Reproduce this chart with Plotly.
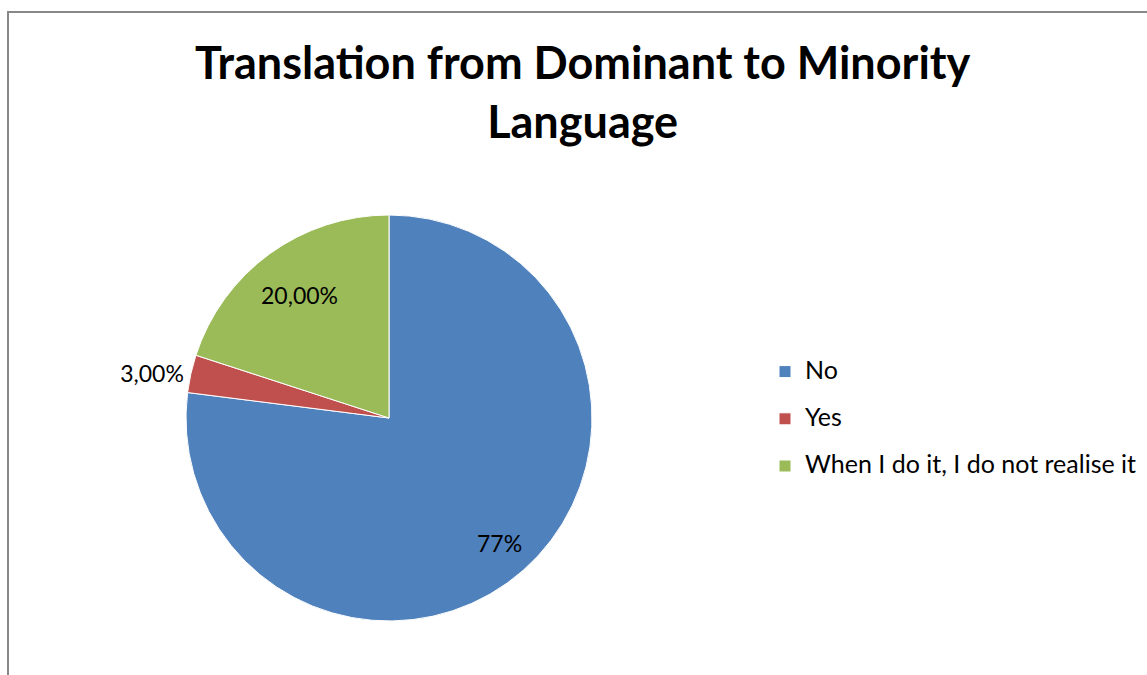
import math
import plotly.graph_objects as go

# Survey answers and their shares (percent)
categories = ["No", "Yes", "When I do it, I do not realise it"]
shares = [77, 3, 20]
label_decimals = [0, 2, 2]
colors = ["#4F81BD", "#C0504D", "#9BBB59"]

W, H = 1147, 675
FONT = "Lato, Carlito, Calibri, sans-serif"

# pie centre and radius in pixels
cx, cy, r = 389, 418, 203
# where each slice's value label sits: radial fraction, or None for outside
label_radius = [0.82, None, 0.75]


def fmt(v, d):
    return f"{v:.{d}f}".replace(".", ",") + "%"


slice_text = [fmt(v, d) for v, d in zip(shares, label_decimals)]

fig = go.Figure(
    go.Pie(
        labels=[f"<span style='font-size:25px;baseline-shift:6px'>{c}</span>" for c in categories],
        values=shares,
        text=slice_text,
        textinfo="text",
        textposition=["none" if lr is not None else "outside" for lr in label_radius],
        textfont=dict(family=FONT, size=23, color="black"),
        marker=dict(colors=colors, line=dict(color="white", width=1)),
        sort=False,
        direction="clockwise",
        rotation=0,
        domain=dict(
            x=[(cx - r) / W, (cx + r) / W],
            y=[1 - (cy + r) / H, 1 - (cy - r) / H],
        ),
        hoverinfo="label+percent",
    )
)

# value labels placed along each slice's middle angle (clockwise from 12 o'clock)
total = sum(shares)
start = 0.0
annotations = []
for v, txt, lr in zip(shares, slice_text, label_radius):
    mid = start + v / total / 2
    start += v / total
    if lr is None:
        continue
    ang = math.pi / 2 - 2 * math.pi * mid
    px = cx + lr * r * math.cos(ang)
    py = cy - lr * r * math.sin(ang)
    annotations.append(
        dict(
            text=txt,
            x=px / W,
            y=1 - py / H,
            xref="paper",
            yref="paper",
            showarrow=False,
            xanchor="center",
            yanchor="middle",
            font=dict(family=FONT, size=23, color="black"),
        )
    )

annotations.append(
    dict(
        text="<b>Translation from Dominant to Minority<br>Language</b>",
        x=583 / W,
        y=1 - 33 / H,
        xref="paper",
        yref="paper",
        xanchor="center",
        yanchor="top",
        showarrow=False,
        font=dict(family=FONT, size=45, color="black"),
    )
)

fig.update_layout(
    width=W,
    height=H,
    margin=dict(l=0, r=0, t=0, b=0),
    paper_bgcolor="white",
    plot_bgcolor="white",
    font=dict(family=FONT, color="black"),
    legend=dict(
        x=765 / W,
        xanchor="left",
        y=1 - 419 / H,
        yanchor="middle",
        font=dict(family=FONT, size=34, color="black"),
        bgcolor="rgba(0,0,0,0)",
    ),
    annotations=annotations,
    shapes=[
        dict(
            type="rect",
            xref="paper",
            yref="paper",
            x0=8 / W,
            x1=1.05,
            y0=-0.05,
            y1=1 - 12 / H,
            line=dict(color="#888888", width=2),
            fillcolor="rgba(0,0,0,0)",
            layer="below",
        )
    ],
)

fig.write_html("out.html")
